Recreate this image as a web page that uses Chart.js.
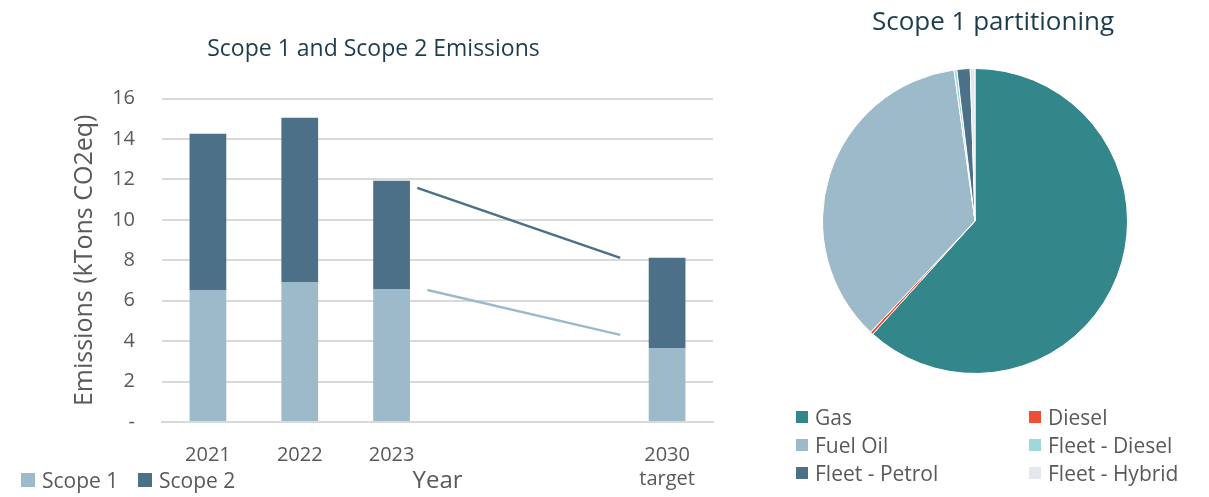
<!DOCTYPE html>
<html>
<head>
<meta charset="utf-8">
<script src="https://cdn.jsdelivr.net/npm/chart.js@4.4.1/dist/chart.umd.min.js"></script>
<style>
    body { margin: 0; background: #ffffff; font-family: "Open Sans", sans-serif; }
    #wrap { position: relative; width: 1209px; height: 497px; }
    #left { position: absolute; left: 0; top: 0; width: 746px; height: 497px; }
    #right { position: absolute; left: 777px; top: 0; width: 432px; height: 497px; }
    #pie-title { position: absolute; left: 777px; width: 432px; top: 4px; text-align: center;
                 font-size: 26px; line-height: 32px; color: #1d3c4c; }
    .legend { position: absolute; color: #595959; }
    .legend .item { position: absolute; white-space: nowrap; display: flex; align-items: center; }
    .legend .box { display: inline-block; margin-right: 7px; }
</style>
</head>
<body>
<div id="wrap">
    <div id="left"><canvas id="emissions-canvas"></canvas></div>
    <div id="right"><canvas id="partition-canvas"></canvas></div>
    <div id="pie-title">Scope 1 partitioning</div>
    <div class="legend" id="emissions-legend"></div>
    <div class="legend" id="partition-legend"></div>
</div>
<script>
// Bar chart data (kTons CO2eq)
const years = ['2021', '2022', '2023', '', '', ['2030', 'target']];
const scope1 = [6.5, 6.93, 6.58, null, null, 3.66];
const scope2 = [7.76, 8.12, 5.35, null, null, 4.46];
const yTicks = [0, 2, 4, 6, 8, 10, 12, 14, 16];

// Trend lines between 2023 and the 2030 target (x = category index)
const trendScope2 = [{ x: 2.28, y: 11.58 }, { x: 4.49, y: 8.12 }];
const trendScope1 = [{ x: 2.39, y: 6.53 }, { x: 4.49, y: 4.31 }];

// Pie data (% of scope 1)
const fuels = ['Gas', 'Diesel', 'Fuel Oil', 'Fleet - Diesel', 'Fleet - Petrol', 'Fleet - Hybrid'];
const fuelShares = [61.7, 0.3, 35.8, 0.3, 1.4, 0.5];

const colScope1 = '#9dbacb';
const colScope2 = '#4b7087';
const fuelColors = ['#33878a', '#f04e37', '#9dbacb', '#9fd8d8', '#4b7087', '#e3e8ee'];
const textGrey = '#595959';
const titleColor = '#1d3c4c';
const gridGrey = '#d9d9d9';

Chart.defaults.font.family = '"Open Sans", sans-serif';
Chart.defaults.animation = false;

new Chart(document.getElementById('emissions-canvas'), {
    type: 'bar',
    data: {
        labels: years,
        datasets: [
            { label: 'Scope 1', data: scope1, backgroundColor: colScope1, grouped: false,
              barPercentage: 0.4, categoryPercentage: 1 },
            { label: 'Scope 2', data: scope2, backgroundColor: colScope2, grouped: false,
              barPercentage: 0.4, categoryPercentage: 1 },
            { type: 'line', label: 'Scope 2 trend', data: trendScope2, xAxisID: 'xl', yAxisID: 'yl',
              borderColor: colScope2, borderWidth: 2.5, pointRadius: 0 },
            { type: 'line', label: 'Scope 1 trend', data: trendScope1, xAxisID: 'xl', yAxisID: 'yl',
              borderColor: colScope1, borderWidth: 2.5, pointRadius: 0 }
        ]
    },
    options: {
        responsive: true,
        maintainAspectRatio: false,
        layout: { padding: { left: 34, right: 33, top: 0, bottom: 0 } },
        plugins: {
            legend: { display: false },
            tooltip: { enabled: false },
            title: {
                display: true,
                text: 'Scope 1 and Scope 2 Emissions',
                color: titleColor,
                font: { size: 23, weight: 'normal' },
                padding: { top: 36, bottom: 35 }
            }
        },
        scales: {
            x: {
                stacked: true,
                afterFit: (scale) => { scale.height = 75; },
                grid: { display: false, drawTicks: false },
                border: { color: gridGrey, width: 2 },
                ticks: { color: textGrey, font: { size: 20 }, padding: 21, maxRotation: 0, autoSkip: false },
                title: { display: true, text: 'Year', color: textGrey, font: { size: 24 }, padding: { top: 0, bottom: 1 } }
            },
            y: {
                stacked: true,
                min: 0,
                max: 16,
                afterFit: (scale) => { scale.width = 128; },
                afterBuildTicks: (axis) => { axis.ticks = yTicks.map(v => ({ value: v })); },
                grid: { color: gridGrey, lineWidth: 2, drawTicks: false },
                border: { display: false },
                ticks: {
                    color: textGrey,
                    font: { size: 20 },
                    padding: 27,
                    callback: (v) => v === 0 ? '-' : v
                },
                title: { display: true, text: 'Emissions (kTons CO2eq)', color: textGrey, font: { size: 25 }, padding: { top: 36, bottom: 0 } }
            },
            // hidden helper axes for the trend lines, aligned with the category slots
            xl: { type: 'linear', display: false, offset: false, min: -0.5, max: 5.5 },
            yl: { type: 'linear', display: false, min: 0, max: 16 }
        }
    }
});

new Chart(document.getElementById('partition-canvas'), {
    type: 'pie',
    data: {
        labels: fuels,
        datasets: [{ data: fuelShares, backgroundColor: fuelColors, borderColor: '#ffffff', borderWidth: 1 }]
    },
    options: {
        responsive: true,
        maintainAspectRatio: false,
        layout: { padding: { left: 0, right: 36, top: 68, bottom: 123 } },
        plugins: {
            legend: { display: false },
            tooltip: { enabled: false }
        }
    }
});

// HTML legends built from the same arrays
function buildLegend(id, names, colors, spots, fontSize, boxSize) {
    const el = document.getElementById(id);
    names.forEach((name, i) => {
        const item = document.createElement('div');
        item.className = 'item';
        item.style.left = spots[i][0] + 'px';
        item.style.top = spots[i][1] + 'px';
        item.style.fontSize = fontSize + 'px';
        item.style.lineHeight = '22px';
        item.innerHTML = '<span class="box" style="width:' + boxSize + 'px;height:' + boxSize +
            'px;background:' + colors[i] + '"></span>' + name;
        el.appendChild(item);
    });
}

buildLegend('emissions-legend', ['Scope 1', 'Scope 2'], [colScope1, colScope2],
    [[21, 469], [138, 469]], 21, 14);

const pieSpots = [];
fuels.forEach((f, i) => {
    pieSpots.push([i % 2 === 0 ? 796 : 1029, 406 + Math.floor(i / 2) * 28]);
});
buildLegend('partition-legend', fuels, fuelColors, pieSpots, 21, 12);
</script>
</body>
</html>
